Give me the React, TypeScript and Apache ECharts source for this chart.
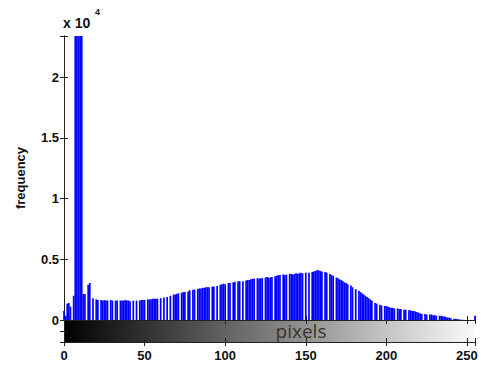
import React, { useEffect, useRef } from "react";
import * as echarts from "echarts";

// pixel-intensity histogram counts, bins 0..255
const counts: number[] = [
  750, 350, 1350, 1400, 1100, 0, 2000, 60000, 60000, 60000,
  60000, 60000, 2150, 2150, 0, 2900, 3050, 0, 1800, 0,
  1700, 1650, 0, 1650, 1600, 1650, 1600, 1600, 0, 1650,
  1600, 0, 1600, 1600, 0, 1600, 1600, 1600, 1650, 1600,
  1600, 1550, 0, 1600, 0, 1600, 0, 1600, 1650, 1650,
  1650, 0, 1700, 1700, 1700, 1750, 1750, 1750, 1750, 0,
  1800, 0, 1850, 0, 1900, 0, 2000, 0, 2100, 2100,
  2150, 2200, 0, 2250, 2300, 2300, 0, 2350, 2450, 0,
  2500, 2500, 0, 2550, 2600, 2600, 2650, 2650, 2700, 2700,
  2700, 0, 2750, 2750, 0, 2800, 0, 2900, 2950, 3000,
  2950, 0, 3050, 3050, 0, 3100, 3150, 0, 3200, 3200,
  0, 3200, 0, 3250, 3300, 3300, 3350, 3400, 3400, 0,
  3450, 3400, 3450, 3450, 0, 3500, 3550, 3500, 3500, 3550,
  0, 3600, 3650, 3700, 3700, 0, 3750, 3700, 3750, 0,
  3800, 3800, 3750, 3800, 3850, 3800, 3850, 3900, 3850, 0,
  3900, 0, 3900, 0, 3950, 4000, 4050, 4100, 4100, 4050,
  4000, 0, 3950, 3900, 0, 3800, 3700, 3650, 0, 3500,
  3450, 3350, 3300, 3200, 3100, 3050, 2950, 0, 2850, 2700,
  0, 2550, 0, 2400, 2300, 2200, 2100, 2000, 1900, 1800,
  1700, 1600, 0, 1400, 1350, 0, 1250, 1200, 0, 1150,
  1150, 1100, 1050, 1000, 1000, 950, 0, 950, 900, 900,
  0, 850, 850, 0, 800, 800, 750, 750, 700, 650,
  600, 550, 500, 0, 500, 450, 0, 450, 450, 400,
  400, 350, 0, 350, 350, 300, 300, 250, 200, 200,
  150, 0, 100, 100, 80, 50, 30, 20, 10, 0,
  0, 0, 0, 0, 0, 350,
];
const bins: number[] = counts.map((_, i) => i);
const xTicks: number[] = [0, 50, 100, 150, 200, 250];
const yTicks: number[] = [0, 5000, 10000, 15000, 20000];
const yMax = 23400;
const yLabel = "frequency";
const xLabel = "pixels";

export default function App() {
  const ref = useRef<HTMLDivElement>(null);
  useEffect(() => {
    document.body.style.margin = "0";
    if (!ref.current) return;
    const chart = echarts.init(ref.current, undefined, { renderer: "svg" });
    const axisColor = "#222";
    const labelFont = {
      fontFamily: "Liberation Sans, Arial, sans-serif",
      fontWeight: "bold" as const,
      fontSize: 13,
      color: "#111",
    };
    const L = 64, T = 36, W = 411, H = 284, CB = 22;
    const tickBase = { show: true, inside: true, length: 4, lineStyle: { color: axisColor } };
    const lineBase = { show: true, lineStyle: { color: axisColor, width: 1 } };
    const xFmt = (v: number) => (xTicks.includes(v) ? String(v) : "");
    const yFmt = (v: number) => (yTicks.includes(v) ? String(v / 10000) : "");
    chart.setOption({
      animation: false,
      backgroundColor: "#fff",
      grid: [
        { left: L, top: T, width: W, height: H },
        { left: L, top: T + H, width: W, height: CB },
      ],
      graphic: [
        {
          type: "rect",
          z: -10,
          shape: { x: L, y: T + H, width: W, height: CB },
          style: {
            fill: new echarts.graphic.LinearGradient(0, 0, 1, 0, [
              { offset: 0, color: "#000" },
              { offset: 1, color: "#fafafa" },
            ]),
          },
        },
        {
          type: "text",
          x: 301,
          y: 331,
          z: 10,
          style: {
            text: xLabel,
            font: "19px 'Open Sans', sans-serif",
            fill: "#3b3425",
            align: "center",
            verticalAlign: "middle",
          },
        },
        {
          type: "text",
          x: 63,
          y: 23,
          style: {
            text: "x 10",
            font: "bold 14px 'Liberation Sans', Arial, sans-serif",
            fill: "#111",
            align: "left",
            verticalAlign: "middle",
          },
        },
        {
          type: "text",
          x: 95,
          y: 12,
          style: {
            text: "4",
            font: "bold 9px 'Liberation Sans', Arial, sans-serif",
            fill: "#111",
            align: "left",
            verticalAlign: "middle",
          },
        },
      ],
      xAxis: [
        {
          type: "value", gridIndex: 0, min: 0, max: 255, interval: 50, position: "bottom",
          axisLine: lineBase, axisTick: tickBase, axisLabel: { show: false }, splitLine: { show: false },
        },
        {
          type: "value", gridIndex: 0, min: 0, max: 255, interval: 50, position: "top",
          axisLine: lineBase, axisTick: tickBase, axisLabel: { show: false }, splitLine: { show: false },
        },
        {
          type: "value", gridIndex: 1, min: 0, max: 255, interval: 50, position: "bottom",
          axisLine: lineBase, axisTick: tickBase,
          axisLabel: { ...labelFont, margin: 7, formatter: xFmt },
          splitLine: { show: false },
        },
        {
          type: "value", gridIndex: 1, min: 0, max: 255, interval: 50, position: "top",
          axisLine: lineBase, axisTick: tickBase, axisLabel: { show: false }, splitLine: { show: false },
        },
      ],
      yAxis: [
        {
          type: "value", gridIndex: 0, min: 0, max: yMax, interval: 5000, position: "left",
          axisLine: lineBase, axisTick: tickBase,
          axisLabel: { ...labelFont, margin: 5, formatter: yFmt },
          splitLine: { show: false },
          name: yLabel, nameLocation: "middle", nameGap: 37, nameRotate: 90,
          nameTextStyle: { ...labelFont, fontSize: 13 },
        },
        {
          type: "value", gridIndex: 0, min: 0, max: yMax, interval: 5000, position: "right",
          axisLine: lineBase, axisTick: tickBase, axisLabel: { show: false }, splitLine: { show: false },
        },
        {
          type: "value", gridIndex: 1, min: 0, max: 1, interval: 0.5, position: "left",
          axisLine: lineBase, axisTick: tickBase, axisLabel: { show: false }, splitLine: { show: false },
        },
        {
          type: "value", gridIndex: 1, min: 0, max: 1, interval: 0.5, position: "right",
          axisLine: lineBase, axisTick: tickBase, axisLabel: { show: false }, splitLine: { show: false },
        },
      ],
      series: [
        {
          type: "bar",
          xAxisIndex: 0,
          yAxisIndex: 0,
          data: bins.map((b, i) => [b, counts[i]]),
          barWidth: 1.7,
          clip: true,
          itemStyle: { color: "#0000ff" },
          z: 1,
        },
      ],
    });
    return () => chart.dispose();
  }, []);
  return <div ref={ref} style={{ width: 481, height: 366 }} />;
}
